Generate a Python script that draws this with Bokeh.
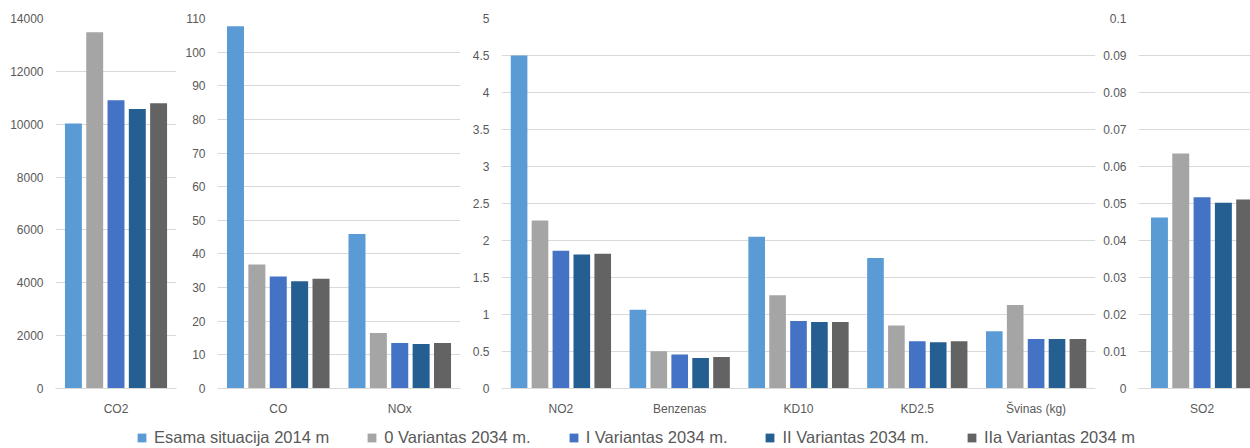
from bokeh.plotting import figure
from bokeh.layouts import row, column
from bokeh.models import (ColumnDataSource, Range1d, FixedTicker,
                          CustomJSTickFormatter, Legend, LegendItem)
from bokeh.transform import dodge
from bokeh.embed import file_html
from bokeh.resources import INLINE

# ---------------- data ----------------
categories = ["CO2", "CO", "NOx", "NO2", "Benzenas", "KD10", "KD2.5", "Švinas (kg)", "SO2"]
series_names = ["Esama situacija 2014 m", "0 Variantas 2034 m.", "I Variantas 2034 m.",
                "II Variantas 2034 m.", "IIa Variantas 2034 m"]
esama_2014 = [10030, 107.7, 45.9, 4.50, 1.065, 2.05, 1.765, 0.772, 0.0462]
var0_2034 = [13480, 36.9, 16.5, 2.27, 0.503, 1.26, 0.853, 1.127, 0.0635]
var1_2034 = [10910, 33.3, 13.5, 1.86, 0.458, 0.911, 0.637, 0.669, 0.0517]
var2_2034 = [10580, 31.9, 13.2, 1.81, 0.413, 0.898, 0.624, 0.669, 0.0502]
var2a_2034 = [10790, 32.6, 13.5, 1.82, 0.426, 0.898, 0.637, 0.669, 0.0511]

panel_categories = [["CO2"], ["CO", "NOx"],
                    ["NO2", "Benzenas", "KD10", "KD2.5", "Švinas (kg)"], ["SO2"]]
panel_y_max = [14000, 110, 5, 0.1]
panel_y_step = [2000, 10, 0.5, 0.01]

# ---------------- style ----------------
colors = ["#5B9BD5", "#A5A5A5", "#4472C4", "#255E91", "#636363"]
series_values = [esama_2014, var0_2034, var1_2034, var2_2034, var2a_2034]
keys = ["s0", "s1", "s2", "s3", "s4"]
offsets = [-0.352, -0.176, 0.0, 0.176, 0.352]
bar_w = 0.14
FONT = "Liberation Sans"
TXT = "#595959"
GRID = "#D9D9D9"

# per-panel layout (figure width, left border, right border, x window)
fig_w = [180, 285, 635, 150]
border_l = [55, 37, 36, 38]
border_r = [4, 5, 5, 0]
x_windows = [(0, 1), (0, 2), (0, 5), (-0.025, 0.9)]

figs = []
for i, cats in enumerate(panel_categories):
    pos = [j + 0.5 for j in range(len(cats))]
    data = {"pos": pos, "cat": cats}
    for k, vals in zip(keys, series_values):
        data[k] = [vals[categories.index(c)] for c in cats]
    src = ColumnDataSource(data)

    p = figure(x_range=Range1d(*x_windows[i]), y_range=Range1d(0, panel_y_max[i]),
               width=fig_w[i], height=418, output_backend="svg",
               toolbar_location=None, min_border=0)
    p.min_border_left = border_l[i]
    p.min_border_right = border_r[i]
    p.min_border_top = 18
    p.min_border_bottom = 30
    p.outline_line_color = None
    p.background_fill_color = "white"
    p.border_fill_color = "white"

    for k, col, off in zip(keys, colors, offsets):
        p.vbar(x=dodge("pos", off), top=k, width=bar_w,
               source=src, fill_color=col, line_color=None)

    n = int(round(panel_y_max[i] / panel_y_step[i]))
    p.yaxis.ticker = FixedTicker(ticks=[round(j * panel_y_step[i], 6) for j in range(n + 1)])
    p.yaxis.formatter = CustomJSTickFormatter(
        code="return String(Math.round(tick*100000)/100000);")
    p.yaxis.axis_line_color = None
    p.yaxis.major_tick_line_color = None
    p.yaxis.minor_tick_line_color = None
    p.yaxis.major_tick_out = 0
    p.yaxis.major_tick_in = 0
    p.yaxis.major_label_standoff = 12
    p.yaxis.major_label_text_font = FONT
    p.yaxis.major_label_text_font_size = "12px"
    p.yaxis.major_label_text_color = TXT

    p.xaxis.ticker = FixedTicker(ticks=pos, minor_ticks=[])
    p.xaxis.major_label_overrides = {x: c for x, c in zip(pos, cats)}
    p.xaxis.axis_line_color = GRID
    p.xaxis.major_tick_line_color = None
    p.xaxis.minor_tick_line_color = None
    p.xaxis.major_tick_out = 0
    p.xaxis.major_tick_in = 0
    p.xaxis.major_label_standoff = 13
    p.xaxis.major_label_text_font = FONT
    p.xaxis.major_label_text_font_size = "12px"
    p.xaxis.major_label_text_color = TXT

    p.xgrid.grid_line_color = None
    p.ygrid.grid_line_color = GRID
    p.ygrid.grid_line_width = 1
    figs.append(p)

# ---------------- legend ----------------
pl = figure(width=1250, height=30, x_range=Range1d(0, 1), y_range=Range1d(0, 1),
            output_backend="svg", toolbar_location=None, min_border=0)
pl.axis.visible = False
pl.grid.visible = False
pl.outline_line_color = None
items = []
for name, col in zip(series_names, colors):
    # zero-height proxy bar: only provides the legend swatch
    r = pl.vbar(x=[0], top=[0], width=0.001, fill_color=col, line_color=None)
    items.append(LegendItem(label=name, renderers=[r]))
legend = Legend(items=items, orientation="horizontal", location=(136, 1),
                padding=0, margin=0, spacing=37, glyph_width=11, glyph_height=11,
                label_standoff=7, label_height=20,
                label_text_font=FONT, label_text_font_size="16.5px",
                label_text_color=TXT, border_line_color=None,
                background_fill_alpha=0)
pl.add_layout(legend, "center")

layout = column(row(*figs), pl)
open("out.html", "w").write(file_html(layout, INLINE))
